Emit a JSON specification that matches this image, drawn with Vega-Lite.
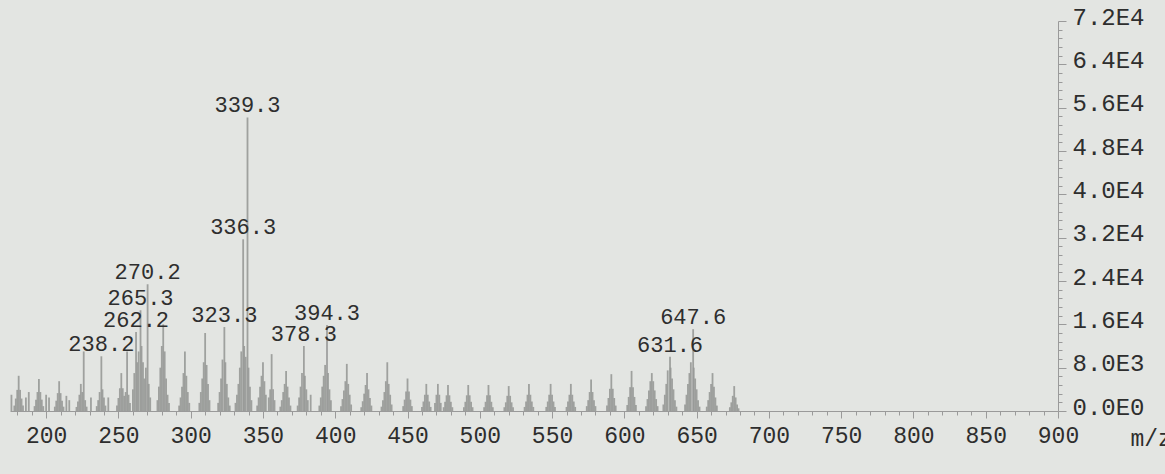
{
 "$schema": "https://vega.github.io/schema/vega-lite/v6.json",
 "width": 1048,
 "height": 390,
 "autosize": {"type": "none"},
 "padding": {"left": 10, "top": 21, "right": 107, "bottom": 63},
 "background": "#e3e5e2",
 "config": {"view": {"stroke": null}, "font": "Liberation Mono", "axis": {"labelOverlap": false, "labelFlush": false}},
 "datasets": {
  "peaks": [
   {"mz":176,"intensity":3000},{"mz":178,"intensity":1000},{"mz":179,"intensity":2300},{"mz":180,"intensity":3900},{"mz":181,"intensity":6500},{"mz":182,"intensity":3900},{"mz":183,"intensity":2300},{"mz":184,"intensity":1000},{"mz":186,"intensity":2500},{"mz":188,"intensity":3500},
   {"mz":192,"intensity":900},{"mz":193,"intensity":2100},{"mz":194,"intensity":3500},{"mz":195,"intensity":5900},{"mz":196,"intensity":3500},{"mz":197,"intensity":2100},{"mz":198,"intensity":900},{"mz":200,"intensity":3000},{"mz":202,"intensity":2500},
   {"mz":206,"intensity":800},{"mz":207,"intensity":1900},{"mz":208,"intensity":3300},{"mz":209,"intensity":5500},{"mz":210,"intensity":3300},{"mz":211,"intensity":1900},{"mz":212,"intensity":800},{"mz":214,"intensity":2800},{"mz":216,"intensity":2000},
   {"mz":221,"intensity":750},{"mz":222,"intensity":1750},{"mz":223,"intensity":3000},{"mz":224,"intensity":5000},{"mz":225,"intensity":3500},{"mz":226,"intensity":11000},{"mz":227,"intensity":2000},{"mz":228,"intensity":800},{"mz":231,"intensity":2500},
   {"mz":235,"intensity":900},{"mz":236,"intensity":2000},{"mz":237,"intensity":3500},{"mz":238.2,"intensity":10100},{"mz":239,"intensity":4000},{"mz":240,"intensity":2500},{"mz":241,"intensity":1000},{"mz":243,"intensity":2500},
   {"mz":249,"intensity":1000},{"mz":250,"intensity":2400},{"mz":251,"intensity":4200},{"mz":252,"intensity":7000},{"mz":253,"intensity":4200},{"mz":254,"intensity":2800},{"mz":255,"intensity":3500},{"mz":256,"intensity":11000},{"mz":257,"intensity":3000},{"mz":258,"intensity":1500},
   {"mz":260,"intensity":4000},{"mz":261,"intensity":7000},{"mz":262.2,"intensity":14600},{"mz":263,"intensity":9000},{"mz":264,"intensity":11000},{"mz":265.3,"intensity":18600},{"mz":266,"intensity":12000},{"mz":267,"intensity":9000},{"mz":268,"intensity":6000},{"mz":269,"intensity":8000},{"mz":270.2,"intensity":23400},{"mz":271,"intensity":5000},{"mz":272,"intensity":2500},
   {"mz":277,"intensity":2000},{"mz":278,"intensity":4500},{"mz":279,"intensity":8000},{"mz":280,"intensity":12000},{"mz":281,"intensity":16000},{"mz":282,"intensity":11000},{"mz":283,"intensity":6000},{"mz":284,"intensity":3000},{"mz":285,"intensity":1500},
   {"mz":292,"intensity":1000},{"mz":293,"intensity":2500},{"mz":294,"intensity":4500},{"mz":295,"intensity":7000},{"mz":296,"intensity":11000},{"mz":297,"intensity":6500},{"mz":298,"intensity":3500},{"mz":299,"intensity":1500},
   {"mz":306,"intensity":1500},{"mz":307,"intensity":3500},{"mz":308,"intensity":6000},{"mz":309,"intensity":9000},{"mz":310,"intensity":14400},{"mz":311,"intensity":8500},{"mz":312,"intensity":5000},{"mz":313,"intensity":2000},
   {"mz":319,"intensity":1500},{"mz":320,"intensity":3500},{"mz":321,"intensity":6000},{"mz":322,"intensity":9500},{"mz":323.3,"intensity":15500},{"mz":324,"intensity":9000},{"mz":325,"intensity":5000},{"mz":326,"intensity":2500},{"mz":327,"intensity":1000},
   {"mz":331,"intensity":1500},{"mz":332,"intensity":3000},{"mz":333,"intensity":5000},{"mz":334,"intensity":8000},{"mz":335,"intensity":11000},{"mz":336.3,"intensity":31700},{"mz":337,"intensity":12000},{"mz":338,"intensity":10000},{"mz":339.3,"intensity":54200},{"mz":340,"intensity":8000},{"mz":341,"intensity":4500},{"mz":342,"intensity":2000},
   {"mz":346,"intensity":1000},{"mz":347,"intensity":2500},{"mz":348,"intensity":4500},{"mz":349,"intensity":6500},{"mz":350,"intensity":9000},{"mz":351,"intensity":5500},{"mz":352,"intensity":3000},
   {"mz":354,"intensity":2500},{"mz":355,"intensity":4000},{"mz":356,"intensity":10500},{"mz":357,"intensity":4000},{"mz":358,"intensity":2000},
   {"mz":362,"intensity":800},{"mz":363,"intensity":2000},{"mz":364,"intensity":3500},{"mz":365,"intensity":5000},{"mz":366,"intensity":7400},{"mz":367,"intensity":4500},{"mz":368,"intensity":2500},{"mz":369,"intensity":1000},
   {"mz":374,"intensity":1000},{"mz":375,"intensity":2500},{"mz":376,"intensity":4500},{"mz":377,"intensity":7000},{"mz":378.3,"intensity":12000},{"mz":379,"intensity":6500},{"mz":380,"intensity":4000},{"mz":381,"intensity":2000},{"mz":383,"intensity":3000},
   {"mz":389,"intensity":1000},{"mz":390,"intensity":2500},{"mz":391,"intensity":4500},{"mz":392,"intensity":6500},{"mz":393,"intensity":8500},{"mz":394.3,"intensity":15900},{"mz":395,"intensity":7000},{"mz":396,"intensity":4000},{"mz":397,"intensity":2000},
   {"mz":404,"intensity":900},{"mz":405,"intensity":2200},{"mz":406,"intensity":3800},{"mz":407,"intensity":5500},{"mz":408,"intensity":8700},{"mz":409,"intensity":5000},{"mz":410,"intensity":3000},{"mz":411,"intensity":1200},
   {"mz":418,"intensity":700},{"mz":419,"intensity":1800},{"mz":420,"intensity":3200},{"mz":421,"intensity":4800},{"mz":422,"intensity":7000},{"mz":423,"intensity":4000},{"mz":424,"intensity":2400},{"mz":425,"intensity":1000},
   {"mz":432,"intensity":800},{"mz":433,"intensity":2000},{"mz":434,"intensity":3500},{"mz":435,"intensity":5500},{"mz":436,"intensity":9000},{"mz":437,"intensity":5000},{"mz":438,"intensity":3000},{"mz":439,"intensity":1200},
   {"mz":447,"intensity":900},{"mz":448,"intensity":2100},{"mz":449,"intensity":3600},{"mz":450,"intensity":6000},{"mz":451,"intensity":3600},{"mz":452,"intensity":2100},{"mz":453,"intensity":900},
   {"mz":460,"intensity":750},{"mz":461,"intensity":1750},{"mz":462,"intensity":3000},{"mz":463,"intensity":5000},{"mz":464,"intensity":3000},{"mz":465,"intensity":1750},{"mz":466,"intensity":750},
   {"mz":469,"intensity":1500},{"mz":470,"intensity":3000},{"mz":471,"intensity":5000},{"mz":472,"intensity":3000},{"mz":473,"intensity":1500},
   {"mz":475,"intensity":700},{"mz":476,"intensity":1700},{"mz":477,"intensity":2900},{"mz":478,"intensity":4800},{"mz":479,"intensity":2900},{"mz":480,"intensity":1700},{"mz":481,"intensity":700},
   {"mz":489,"intensity":700},{"mz":490,"intensity":1700},{"mz":491,"intensity":2900},{"mz":492,"intensity":4800},{"mz":493,"intensity":2900},{"mz":494,"intensity":1700},{"mz":495,"intensity":700},
   {"mz":503,"intensity":700},{"mz":504,"intensity":1700},{"mz":505,"intensity":2900},{"mz":506,"intensity":4800},{"mz":507,"intensity":2900},{"mz":508,"intensity":1700},{"mz":509,"intensity":700},
   {"mz":517,"intensity":700},{"mz":518,"intensity":1600},{"mz":519,"intensity":2800},{"mz":520,"intensity":4600},{"mz":521,"intensity":2800},{"mz":522,"intensity":1600},{"mz":523,"intensity":700},
   {"mz":531,"intensity":750},{"mz":532,"intensity":1750},{"mz":533,"intensity":3000},{"mz":534,"intensity":5000},{"mz":535,"intensity":3000},{"mz":536,"intensity":1750},{"mz":537,"intensity":750},
   {"mz":546,"intensity":750},{"mz":547,"intensity":1750},{"mz":548,"intensity":3000},{"mz":549,"intensity":5000},{"mz":550,"intensity":3000},{"mz":551,"intensity":1750},{"mz":552,"intensity":750},
   {"mz":560,"intensity":750},{"mz":561,"intensity":1750},{"mz":562,"intensity":3000},{"mz":563,"intensity":5000},{"mz":564,"intensity":3000},{"mz":565,"intensity":1750},{"mz":566,"intensity":750},
   {"mz":574,"intensity":900},{"mz":575,"intensity":2000},{"mz":576,"intensity":3500},{"mz":577,"intensity":5800},{"mz":578,"intensity":3500},{"mz":579,"intensity":2000},{"mz":580,"intensity":900},
   {"mz":588,"intensity":1000},{"mz":589,"intensity":2400},{"mz":590,"intensity":4100},{"mz":591,"intensity":6800},{"mz":592,"intensity":4100},{"mz":593,"intensity":2400},{"mz":594,"intensity":1000},
   {"mz":602,"intensity":1100},{"mz":603,"intensity":2600},{"mz":604,"intensity":4400},{"mz":605,"intensity":7400},{"mz":606,"intensity":4400},{"mz":607,"intensity":2600},{"mz":608,"intensity":1100},
   {"mz":615,"intensity":900},{"mz":616,"intensity":2200},{"mz":617,"intensity":3800},{"mz":618,"intensity":5500},{"mz":619,"intensity":7000},{"mz":620,"intensity":5500},{"mz":621,"intensity":3800},{"mz":622,"intensity":2200},{"mz":623,"intensity":900},
   {"mz":627,"intensity":1200},{"mz":628,"intensity":3000},{"mz":629,"intensity":5000},{"mz":630,"intensity":7500},{"mz":631.6,"intensity":10000},{"mz":632,"intensity":8000},{"mz":633,"intensity":6000},{"mz":634,"intensity":4000},{"mz":635,"intensity":2000},{"mz":636,"intensity":800},
   {"mz":642,"intensity":1200},{"mz":643,"intensity":3000},{"mz":644,"intensity":5000},{"mz":645,"intensity":7000},{"mz":646,"intensity":9000},{"mz":647.6,"intensity":15100},{"mz":648,"intensity":8000},{"mz":649,"intensity":6000},{"mz":650,"intensity":4000},{"mz":651,"intensity":2000},{"mz":652,"intensity":800},
   {"mz":657,"intensity":800},{"mz":658,"intensity":2000},{"mz":659,"intensity":3500},{"mz":660,"intensity":5000},{"mz":661,"intensity":7000},{"mz":662,"intensity":4500},{"mz":663,"intensity":2500},{"mz":664,"intensity":1000},
   {"mz":673,"intensity":700},{"mz":674,"intensity":1600},{"mz":675,"intensity":2800},{"mz":676,"intensity":4600},{"mz":677,"intensity":2500},{"mz":678,"intensity":1200},{"mz":679,"intensity":500}
  ],
  "labels": [
   {"mz":238.2,"intensity":10100},{"mz":262.2,"intensity":14600},{"mz":265.3,"intensity":18600},{"mz":270.2,"intensity":23400},
   {"mz":323.3,"intensity":15500},{"mz":336.3,"intensity":31700},{"mz":339.3,"intensity":54200},{"mz":378.3,"intensity":12000},
   {"mz":394.3,"intensity":15900},{"mz":631.6,"intensity":10000},{"mz":647.6,"intensity":15100}
  ]
 },
 "encoding": {
  "x": {
   "field": "mz", "type": "quantitative",
   "scale": {"domain": [175, 900], "nice": false, "zero": false},
   "axis": {
    "title": "m/z", "titleX": 1120, "titleY": 27, "titleAlign": "left", "titleBaseline": "middle",
    "titleFontSize": 23, "titleFontWeight": "normal", "titleColor": "#2e2e2e", "titleFont": "Liberation Mono",
    "values": [180,190,200,210,220,230,240,250,260,270,280,290,300,310,320,330,340,350,360,370,380,390,400,410,420,430,440,450,460,470,480,490,500,510,520,530,540,550,560,570,580,590,600,610,620,630,640,650,660,670,680,690,700,710,720,730,740,750,760,770,780,790,800,810,820,830,840,850,860,870,880,890,900],
    "labelExpr": "datum.value % 50 === 0 ? '' + datum.value : ''",
    "labelFontSize": 23, "labelColor": "#2e2e2e", "labelFont": "Liberation Mono",
    "tickSize": {"condition": {"test": "datum.value % 50 === 0", "value": 7}, "value": 4},
    "tickColor": "#9a9a9a", "domainColor": "#9a9a9a", "labelPadding": 6,
    "grid": false, "labelFlush": false, "labelOverlap": false
   }
  },
  "y": {
   "field": "intensity", "type": "quantitative",
   "scale": {"domain": [0, 72000], "nice": false},
   "axis": {
    "orient": "right", "title": null,
    "values": [0,1600,3200,4800,6400,8000,9600,11200,12800,14400,16000,17600,19200,20800,22400,24000,25600,27200,28800,30400,32000,33600,35200,36800,38400,40000,41600,43200,44800,46400,48000,49600,51200,52800,54400,56000,57600,59200,60800,62400,64000,65600,67200,68800,70400,72000],
    "labelExpr": "datum.value % 8000 === 0 ? replace(format(datum.value, '.1e'), 'e+', 'E') : ''",
    "labelFontSize": 24, "labelColor": "#2e2e2e", "labelFont": "Liberation Mono",
    "labelBaseline": "middle", "labelOffset": -4, "labelPadding": 6,
    "tickSize": {"condition": {"test": "datum.value % 8000 === 0", "value": 8}, "value": 4},
    "tickColor": "#9a9a9a", "domainColor": "#9a9a9a",
    "grid": false, "labelFlush": false, "labelOverlap": false
   }
  }
 },
 "layer": [
  {
   "data": {"name": "peaks"},
   "mark": {"type": "rule", "color": "#979997", "strokeWidth": 1.8, "opacity": 0.9},
   "encoding": {"y2": {"datum": 0}}
  },
  {
   "data": {"name": "labels"},
   "mark": {"type": "text", "dy": -12, "fontSize": 22, "color": "#2e2e2e", "font": "Liberation Mono"},
   "encoding": {
    "text": {"field": "mz", "type": "quantitative", "format": ".1f"}
   }
  }
 ]
}
